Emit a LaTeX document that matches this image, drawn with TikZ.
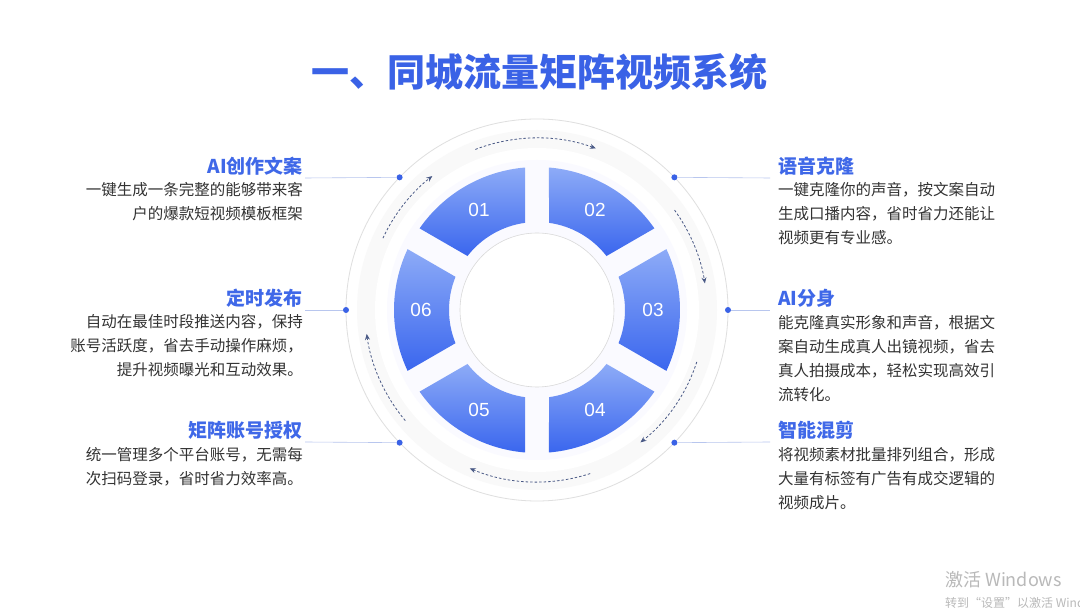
\documentclass[tikz,border=0pt]{standalone}
\usepackage{fontspec}
\setmainfont{Liberation Sans}
\newfontfamily\cjk{Noto Sans CJK SC}
\usetikzlibrary{arrows.meta}
\definecolor{tblue}{HTML}{3A62E6}
\definecolor{hblue}{HTML}{3F68E8}
\definecolor{segtop}{HTML}{8DABF7}
\definecolor{segbot}{HTML}{3A66EE}
\definecolor{bodyc}{HTML}{333333}
\definecolor{linec}{HTML}{B8C6EE}
\definecolor{arrc}{HTML}{4A5A86}
\tikzset{
  head/.style={font=\cjk\bfseries\fontsize{19}{22}\selectfont, text=hblue, inner sep=0pt},
  bodyl/.style={font=\cjk\fontsize{15.5}{24}\selectfont, text=bodyc, inner sep=0pt, align=right, anchor=north east},
  bodyr/.style={font=\cjk\fontsize{15.5}{24}\selectfont, text=bodyc, inner sep=0pt, align=left, anchor=north west},
  seg/.style={top color=segtop, bottom color=segbot, draw=none},
  num/.style={font=\fontsize{19}{22}\selectfont, text=white},
  dotc/.style={circle, fill=tblue, inner sep=0pt, minimum size=6pt},
  leader/.style={draw=linec, line width=0.6pt},
  flow/.style={draw=arrc, dashed, dash pattern=on 2.5pt off 2pt, line width=0.8pt, -{Stealth[length=6pt,width=5pt]}},
}
\begin{document}
\begin{tikzpicture}[x=1pt,y=1pt]
\useasboundingbox (0,0) rectangle (1080,608);
\clip (0,0) rectangle (1080,608);
\fill[white] (0,0) rectangle (1080,608);
\coordinate (c) at (537,298);
% title
\node[font=\cjk\bfseries\fontsize{38}{42}\selectfont, text=tblue] (title) at (539,536) {一、同城流量矩阵视频系统};
% rings
\draw[gray!25, line width=0.8pt] (c) circle[radius=191];
\fill[black!2.5] (c) circle[radius=180];
\fill[white] (c) circle[radius=162];
\fill[blue!2] (c) circle[radius=150];
\draw[gray!30, line width=0.6pt, fill=white] (c) circle[radius=77];
% segments
\foreach \t/\n in {120/01,60/02,0/03,-60/04,-120/05,180/06}{
  \path[seg] ([shift={(\t-30+7.84:88)}]c) -- ([shift={(\t-30+4.81:143)}]c)
     arc[start angle=\t-30+4.81, end angle=\t+30-4.81, radius=143]
     -- ([shift={(\t+30-7.84:88)}]c)
     arc[start angle=\t+30-7.84, end angle=\t-30+7.84, radius=88] -- cycle;
  \node[num] (n\n) at ([shift={(\t:116)}]c) {\n};
}
% dashed flow arrows
\draw[flow] ([shift={(111:172)}]c) arc[start angle=111, end angle=70, radius=172];
\draw[flow] ([shift={(36:170)}]c) arc[start angle=36, end angle=9, radius=170];
\draw[flow] ([shift={(-18:168)}]c) arc[start angle=-18, end angle=-52, radius=168];
\draw[flow] ([shift={(-72:172)}]c) arc[start angle=-72, end angle=-113, radius=172];
\draw[flow] ([shift={(-140:172)}]c) arc[start angle=-140, end angle=-172, radius=172];
\draw[flow] ([shift={(-205:170)}]c) arc[start angle=-205, end angle=-232, radius=170];
% dots
\node[dotc] (d1) at ([shift={(136:191)}]c) {};
\node[dotc] (d2) at ([shift={(44:191)}]c) {};
\node[dotc] (d3) at ([shift={(0:191)}]c) {};
\node[dotc] (d4) at ([shift={(-44:191)}]c) {};
\node[dotc] (d5) at ([shift={(-136:191)}]c) {};
\node[dotc] (d6) at ([shift={(180:191)}]c) {};
% leader ends
\coordinate (e1) at (305,430);
\coordinate (e6) at (305,298);
\coordinate (e5) at (305,166);
\coordinate (e2) at (770,430);
\coordinate (e3) at (770,298);
\coordinate (e4) at (770,166);
\draw[leader] (d1) -- (e1); \draw[leader] (d6) -- (e6); \draw[leader] (d5) -- (e5);
\draw[leader] (d2) -- (e2); \draw[leader] (d3) -- (e3); \draw[leader] (d4) -- (e4);
% left texts
\node[head, anchor=east] (h1) at (303,442) {AI创作文案};
\node[bodyl] (b1) at (303,426) {一键生成一条完整的能够带来客\\户的爆款短视频模板框架};
\node[head, anchor=east] (h6) at (303,310) {定时发布};
\node[bodyl] (b6) at (303,294) {自动在最佳时段推送内容，保持\\账号活跃度，省去手动操作麻烦，\\提升视频曝光和互动效果。};
\node[head, anchor=east] (h5) at (303,178) {矩阵账号授权};
\node[bodyl] (b5) at (303,161) {统一管理多个平台账号，无需每\\次扫码登录，省时省力效率高。};
% right texts
\node[head, anchor=west] (h2) at (778,442) {语音克隆};
\node[bodyr] (b2) at (778,426) {一键克隆你的声音，按文案自动\\生成口播内容，省时省力还能让\\视频更有专业感。};
\node[head, anchor=west] (h3) at (778,310) {AI分身};
\node[bodyr] (b3) at (778,293) {能克隆真实形象和声音，根据文\\案自动生成真人出镜视频，省去\\真人拍摄成本，轻松实现高效引\\流转化。};
\node[head, anchor=west] (h4) at (778,178) {智能混剪};
\node[bodyr] (b4) at (778,161) {将视频素材批量排列组合，形成\\大量有标签有广告有成交逻辑的\\视频成片。};
% watermark
\node[font=\cjk\fontsize{18}{20}\selectfont, text=gray!55, anchor=west, inner sep=0pt] (wm1) at (945,28) {激活 Windows};
\node[font=\cjk\fontsize{12}{14}\selectfont, text=gray!55, anchor=west, inner sep=0pt] (wm2) at (945,5) {转到“设置”以激活 Windows。};
\end{tikzpicture}
\end{document}
